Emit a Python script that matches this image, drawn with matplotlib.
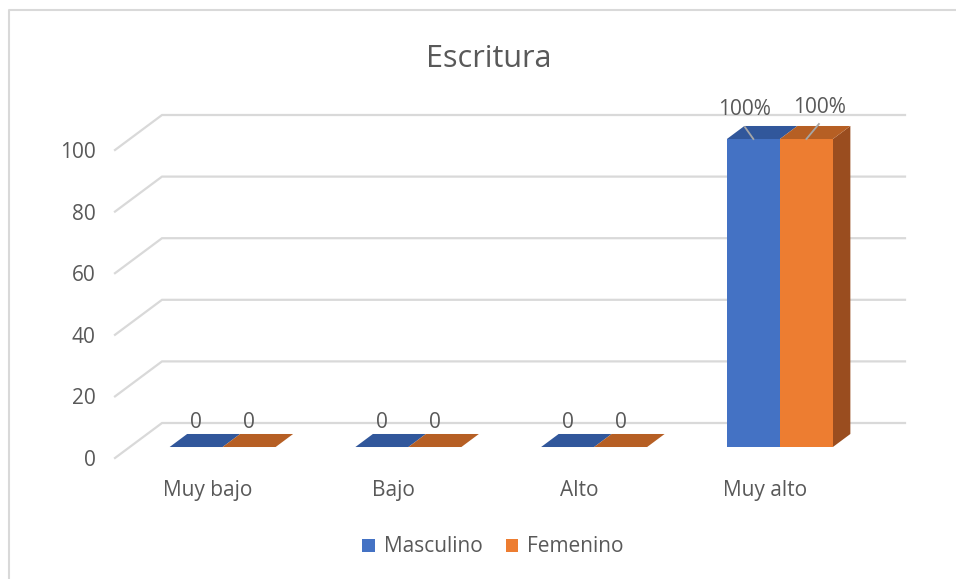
import matplotlib
matplotlib.use("Agg")
import matplotlib.pyplot as plt
from matplotlib.patches import Polygon, Patch
from matplotlib.lines import Line2D

plt.rcParams['font.family'] = ['Open Sans', 'DejaVu Sans']

# ---- data ----
title = "Escritura"
categories = ["Muy bajo", "Bajo", "Alto", "Muy alto"]
series_names = ["Masculino", "Femenino"]
masculino = [0, 0, 0, 100]
femenino = [0, 0, 0, 100]
label_masc = ["0", "0", "0", "100%"]
label_fem = ["0", "0", "0", "100%"]
yticks = [0, 20, 40, 60, 80, 100]

# ---- style ----
front_cols = ["#4472C4", "#ED7D31"]
top_cols = ["#31579B", "#B65F24"]
side_cols = ["#2A4A85", "#9A4D1F"]
grid_col = "#D9D9D9"
text_col = "#595959"

W, H = 956, 579
fig = plt.figure(figsize=(W / 100, H / 100), dpi=100)

# pixel geometry of the plot (oblique projection)
PX_X = 185.75           # px per category
PX_Y = 3.08             # px per value unit
DEPTH_PX = (47, 35)     # back wall offset in px
DX = DEPTH_PX[0] / PX_X
DY = DEPTH_PX[1] / PX_Y
left_px, bottom_px = 115, 458
ytop = 125
ax_w = (len(categories) + DX) * PX_X
ax_h = ytop * PX_Y
ax = fig.add_axes([left_px / W, (H - bottom_px) / H, ax_w / W, ax_h / H])
ax.set_xlim(0, len(categories) + DX)
ax.set_ylim(0, ytop)
for s in ax.spines.values():
    s.set_visible(False)


def P(x, y, d):
    return (x + d * DX, y + d * DY)


# gridlines (side wall + back wall)
for g in yticks:
    pts = [P(0, g, 0), P(0, g, 1), P(len(categories), g, 1)]
    ax.plot([p[0] for p in pts], [p[1] for p in pts], color=grid_col,
            lw=1.6, solid_joinstyle='miter', zorder=1, clip_on=False)

# bars
d0, d1 = 0.314, 0.686
bw = 53 / PX_X
series = [masculino, femenino]
labels = [label_masc, label_fem]
for i in range(len(categories)):
    for s, vals in enumerate(series):
        v = vals[i]
        x0 = i + 0.5 - bw + s * bw
        x1 = x0 + bw
        z = 3 + s
        # right side
        if s == 1 and v > 0:
            ax.add_patch(Polygon([P(x1, 0, d0), P(x1, 0, d1), P(x1, v, d1), P(x1, v, d0)],
                                 closed=True, fc=side_cols[s], ec='none', zorder=z))
        # front face
        if v > 0:
            ax.add_patch(Polygon([P(x0, 0, d0), P(x1, 0, d0), P(x1, v, d0), P(x0, v, d0)],
                                 closed=True, fc=front_cols[s], ec='none', zorder=z))
        # top face
        ax.add_patch(Polygon([P(x0, v, d0), P(x1, v, d0), P(x1, v, d1), P(x0, v, d1)],
                             closed=True, fc=top_cols[s], ec='none', zorder=z))
        # data labels
        cx = P((x0 + x1) / 2, v, d0)
        if v == 0:
            ax.text(cx[0], P(0, v, d1)[1] + 11 / PX_Y, labels[s][i], ha='center',
                    va='center', fontsize=15, color=text_col, zorder=6)
        else:
            offs = [(-8.5, 30, -8.5, 12), (13.5, 32, 12.5, 15)][s]
            lx, ly = cx[0] + offs[0] / PX_X, cx[1] + offs[1] / PX_Y
            ex, ey = cx[0] + offs[2] / PX_X, cx[1] + offs[3] / PX_Y
            ax.plot([cx[0], ex], [cx[1], ey], color="#A6A6A6", lw=1.3, zorder=7,
                    clip_on=False)
            ax.text(lx, ly, labels[s][i], ha='center', va='center', fontsize=15,
                    color=text_col, zorder=7)

# axes ticks / labels
ax.set_yticks(yticks)
ax.set_yticklabels([str(t) for t in yticks])
ax.set_xticks([i + 0.5 for i in range(len(categories))])
ax.set_xticklabels(categories)
ax.tick_params(axis='y', length=0, pad=14, labelsize=15, labelcolor=text_col)
ax.tick_params(axis='x', length=0, pad=16, labelsize=15, labelcolor=text_col)

# title
fig.text(489 / W, 1 - 67 / H, title, ha='center', va='baseline', fontsize=22,
         color=text_col)

# legend
handles = [Patch(facecolor=c, edgecolor='none') for c in front_cols]
fig.legend(handles, series_names, loc='center', bbox_to_anchor=(493 / W, 1 - 547 / H),
           ncol=2, frameon=False, fontsize=15, handlelength=0.6, handleheight=0.6,
           handletextpad=0.45, columnspacing=1.1, labelcolor=text_col)

# chart border (top and left visible)
fig.add_artist(Line2D([8.5 / W, 8.5 / W, 1.0], [0.0, 1 - 9.5 / H, 1 - 9.5 / H],
                      color=grid_col, lw=1.5, transform=fig.transFigure))

fig.savefig("out.png", dpi=100, facecolor='white')
